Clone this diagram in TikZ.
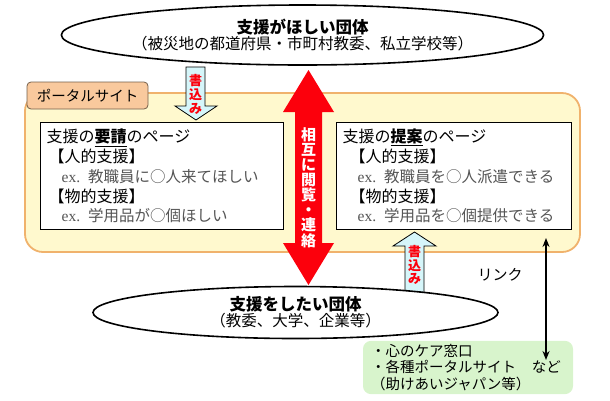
\documentclass[tikz,border=0pt]{standalone}
\usepackage{fontspec}
\setmainfont{Noto Sans CJK JP}
\newfontfamily\exfont{Liberation Serif}
\usetikzlibrary{shapes.geometric, arrows.meta}
\definecolor{portalfill}{RGB}{255,249,206}
\definecolor{portalline}{RGB}{240,178,108}
\definecolor{tabfill}{RGB}{249,201,157}
\definecolor{tabline}{RGB}{115,95,75}
\definecolor{writefill}{RGB}{214,246,250}
\definecolor{listfill}{RGB}{216,244,204}
\definecolor{exgray}{RGB}{85,85,85}
\definecolor{mutualred}{RGB}{252,0,12}
\newcommand{\exline}[2]{{\fontsize{15.5}{19.8}\selectfont\color{exgray}{\exfont #1} #2}}
\tikzset{
  group/.style={ellipse, draw, line width=1.6pt, fill=white, inner sep=0pt, align=center},
  pagebox/.style={draw, line width=1.4pt, fill=white, anchor=north west, inner xsep=6pt,
    minimum height=107, align=left, font=\fontsize{16}{19.8}\selectfont},
  writearrow/.style={draw, line width=0.8pt, fill=writefill},
  writetext/.style={text=mutualred, align=center, inner sep=0pt, font=\bfseries\fontsize{13}{13.7}\selectfont}
}
\begin{document}
\begin{tikzpicture}[x=1pt, y=-1pt, >={Stealth[length=9pt, width=7pt]}]
\useasboundingbox (0,0) rectangle (610,400);
% ---------- the portal site ----------
\node[draw=portalline, line width=1.8pt, fill=portalfill, rounded corners=18pt,
  minimum width=555, minimum height=159] (portal) at (302.5,172.5) {};
\node[draw=tabline, line width=0.8pt, fill=tabfill, rounded corners=4pt,
  minimum width=121, minimum height=27, font=\fontsize{14.5}{16}\selectfont] (tab) at (87.5,95.5) {ポータルサイト};
% the two pages
\node[pagebox, text width=231] (request) at (40,122) {%
  支援の\underline{\textbf{要請}}のページ\\
  \hspace*{2pt}【人的支援】\\
  \hspace*{15pt}\exline{ex.}{教職員に○人来てほしい}\\
  \hspace*{2pt}【物的支援】\\
  \hspace*{15pt}\exline{ex.}{学用品が○個ほしい}};
\node[pagebox, text width=223] (offer) at (336,122) {%
  支援の\underline{\textbf{提案}}のページ\\
  \hspace*{7pt}【人的支援】\\
  \hspace*{15pt}\exline{ex.}{教職員を○人派遣できる}\\
  \hspace*{7pt}【物的支援】\\
  \hspace*{15pt}\exline{ex.}{学用品を○個提供できる}};
% ---------- the arrows ----------
% mutual viewing / contact
\fill[mutualred] (308.5,70) -- (334,112) -- (322,112) -- (322,243) -- (334,243) -- (308.5,285)
  -- (283,243) -- (295,243) -- (295,112) -- (283,112) -- cycle;
\node[text=white, align=center, inner sep=0pt, font=\bfseries\fontsize{15}{15.1}\selectfont] (mutual) at (308.5,187.5)
  {相\\互\\に\\閲\\覧\\・\\連\\絡};
% writing, down into the request page and up into the offer page
\draw[writearrow] (186,67) -- (205,67) -- (205,106) -- (217,106) -- (196,120) -- (175,106) -- (186,106) -- cycle;
\node[writetext] (writedown) at (195.5,94.5) {書\\込\\み};
\draw[writearrow] (405,296) -- (424,296) -- (424,246) -- (436,246) -- (414.5,232) -- (393,246) -- (405,246) -- cycle;
\node[writetext] (writeup) at (414.5,265) {書\\込\\み};
% ---------- the two groups ----------
\node[group, minimum width=482, minimum height=60] (needer) at (302.5,35) {%
  {\bfseries\fontsize{16.5}{21}\selectfont 支援がほしい団体}\\
  {\fontsize{15.5}{21}\selectfont （被災地の都道府県・市町村教委、私立学校等）}};
\node[group, minimum width=405, minimum height=52] (giver) at (295.5,312.5) {%
  {\bfseries\fontsize{16.5}{21}\selectfont 支援をしたい団体}\\
  {\fontsize{15.5}{21}\selectfont （教委、大学、企業等）}};
% ---------- other sites, by link ----------
\node[fill=listfill, rounded corners=8pt, minimum width=210, minimum height=53, inner xsep=8pt,
  text width=194, align=left, font=\fontsize{14.5}{16.5}\selectfont] (others) at (468,367.5) {%
  ・心のケア窓口\\
  ・各種ポータルサイト\hspace{16pt}など\\
  （助けあいジャパン等）};
\coordinate (linktop) at (546,238);
\coordinate (linkbot) at (546,360);
\draw[<->, line width=1.6pt] (linktop) -- (linkbot);
\node[font=\fontsize{15}{16}\selectfont] (linklabel) at (500,275) {リンク};
\end{tikzpicture}
\end{document}
